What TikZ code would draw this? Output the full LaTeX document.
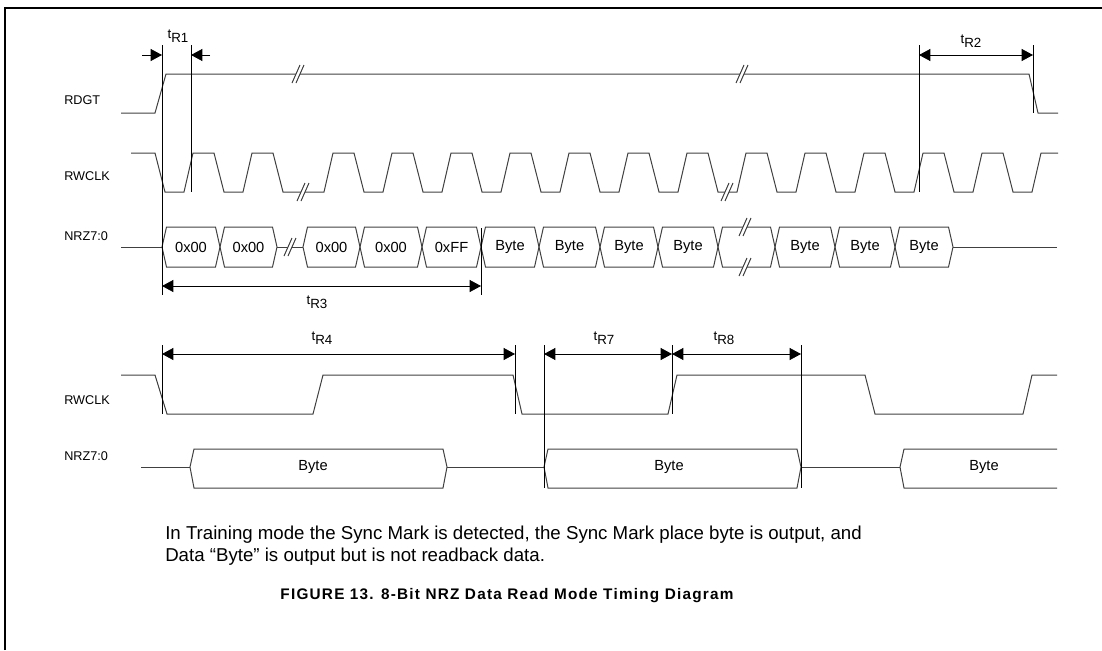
\documentclass[tikz,border=0pt]{standalone}
\usepackage{fontspec}
\setmainfont{Liberation Sans}
\usetikzlibrary{arrows.meta}

\newcommand{\tsub}[1]{t\raisebox{-0.55ex}{#1}}
% break mark on a trace
\newcommand{\brk}[2]{%
	\fill[white] (#1-6,#2+9) -- (#1+2,#2-9) -- (#1+6,#2-9) -- (#1-2,#2+9) -- cycle;
	\draw[sig] (#1-6,#2+9) -- (#1+2,#2-9) (#1-2,#2+9) -- (#1+6,#2-9);}

\begin{document}
\begin{tikzpicture}[x=0.75pt,y=-0.75pt,
	sig/.style={draw=black!75,line width=0.75pt},
	vline/.style={draw=black,line width=0.6pt},
	dim/.style={{Triangle[length=8.5pt,width=9pt]}-{Triangle[length=8.5pt,width=9pt]},line width=0.6pt},
	half/.style={-{Triangle[length=8.5pt,width=9pt]},line width=0.6pt},
	siglbl/.style={anchor=west,inner sep=0pt,font=\fontsize{9.5}{11}\selectfont},
	tlbl/.style={inner sep=0pt,font=\fontsize{10}{12}\selectfont},
	bytelbl/.style={inner sep=0pt,font=\fontsize{11}{13}\selectfont},
	note/.style={anchor=west,inner sep=0pt,font=\fontsize{14}{17}\selectfont}]
	\useasboundingbox (0,0) rectangle (1102,650);
	\draw[line width=2.2pt] (5,650) -- (5,8) -- (1102,8);

	% upper diagram
	\node[siglbl] (rdgt) at (64,100) {RDGT};
	\node[siglbl] (rwclka) at (64,176) {RWCLK};
	\node[siglbl] (nrza) at (64,236) {NRZ7:0};

	\draw[sig] (121,113) -- (155,113) -- (166,74) -- (1029,74) -- (1038,113) -- (1058,113);
	\brk{298}{74} \brk{742}{74}

	\draw[sig] (131,153) -- (155,153) -- (165,192)
		\foreach \h in {193,252,333,392,451,510,569,628,687,746,805,864,923,982}
			{ -- (\h-9,192) -- (\h,153) -- (\h+21,153) -- (\h+31,192) }
		-- (1032,192) -- (1041,153) -- (1058,153);
	\brk{303}{192} \brk{727}{192}

	\draw[sig] (121,247) -- (162,247) (277,247) -- (303,247) (953,247) -- (1057,247);
	\foreach \a/\b/\txt [count=\i] in {162/220/0x00,220/277/0x00,303/360/0x00,360/422/0x00,
		422/481/0xFF,481/539/Byte,539/600/Byte,600/658/Byte,658/718/Byte,718/775/{},
		775/835/Byte,835/895/Byte,895/953/Byte}{
		\draw[sig] (\a,247) -- (\a+4.5,227) -- (\b-4.5,227) -- (\b,247) -- (\b-4.5,267) -- (\a+4.5,267) -- cycle;
		\node[bytelbl] (nb\i) at ({(\a+\b)/2},247) {\txt};
	}
	\brk{290}{247} \brk{745}{227} \brk{745}{267}

	\draw[vline] (162,45) -- (162,295);
	\draw[vline] (191,45) -- (191,192);
	\draw[vline] (919,45) -- (919,192);
	\draw[vline] (1033,45) -- (1033,113);
	\draw[vline] (481,228) -- (481,295);

	\coordinate (r1a) at (142,55); \coordinate (r1l) at (162,55);
	\coordinate (r1b) at (210,55); \coordinate (r1r) at (191,55);
	\draw[half] (r1a) -- (r1l);
	\draw[half] (r1b) -- (r1r);
	\node[tlbl] (tr1) at (178,36) {\tsub{R1}};

	\coordinate (r2l) at (919,55); \coordinate (r2r) at (1033,55);
	\draw[dim] (r2l) -- (r2r);
	\node[tlbl] (tr2) at (971,41) {\tsub{R2}};

	\coordinate (r3l) at (162,286); \coordinate (r3r) at (481,286);
	\draw[dim] (r3l) -- (r3r);
	\node[tlbl] (tr3) at (317,302) {\tsub{R3}};

	% lower diagram
	\node[siglbl] (rwclkb) at (64,400) {RWCLK};
	\node[siglbl] (nrzb) at (64,456) {NRZ7:0};

	\draw[sig] (121,375) -- (155,375) -- (167,414) -- (313,414) -- (323,375) -- (513,375) -- (522,414)
		-- (668,414) -- (677,375) -- (865,375) -- (875,414) -- (1023,414) -- (1032,375) -- (1057,375);

	\draw[sig] (141,467) -- (190,467) (447,467) -- (544,467) (801,467) -- (900,467);
	\draw[sig] (190,467) -- (194,449) -- (443,449) -- (447,467) -- (443,488) -- (194,488) -- cycle;
	\draw[sig] (544,467) -- (548,449) -- (797,449) -- (801,467) -- (797,488) -- (548,488) -- cycle;
	\draw[sig] (1057,449) -- (904,449) -- (900,467) -- (904,488) -- (1057,488);
	\node[bytelbl] (lb1) at (313,467) {Byte};
	\node[bytelbl] (lb2) at (669,467) {Byte};
	\node[bytelbl] (lb3) at (984,467) {Byte};

	\draw[vline] (162,345) -- (162,414);
	\draw[vline] (515,345) -- (515,414);
	\draw[vline] (544,345) -- (544,488);
	\draw[vline] (672,345) -- (672,414);
	\draw[vline] (801,345) -- (801,488);

	\coordinate (r4l) at (162,354); \coordinate (r4r) at (515,354);
	\coordinate (r7l) at (544,354); \coordinate (r7r) at (672,354);
	\coordinate (r8r) at (801,354);
	\draw[dim] (r4l) -- (r4r);
	\draw[dim] (r7l) -- (r7r);
	\draw[dim] (r7r) -- (r8r);
	\node[tlbl] (tr4) at (322,338) {\tsub{R4}};
	\node[tlbl] (tr7) at (604,338) {\tsub{R7}};
	\node[tlbl] (tr8) at (724,338) {\tsub{R8}};

	\node[note] (note1) at (165,535)
		{In Training mode the Sync Mark is detected, the Sync Mark place byte is output, and};
	\node[note] (note2) at (165,557)
		{Data “Byte” is output but is not readback data.};
	\node[inner sep=0pt,font=\fontsize{11.5}{14}\selectfont\bfseries\addfontfeature{LetterSpace=8}] (cap) at (507,596)
		{FIGURE 13. 8-Bit NRZ Data Read Mode Timing Diagram};
\end{tikzpicture}
\end{document}
